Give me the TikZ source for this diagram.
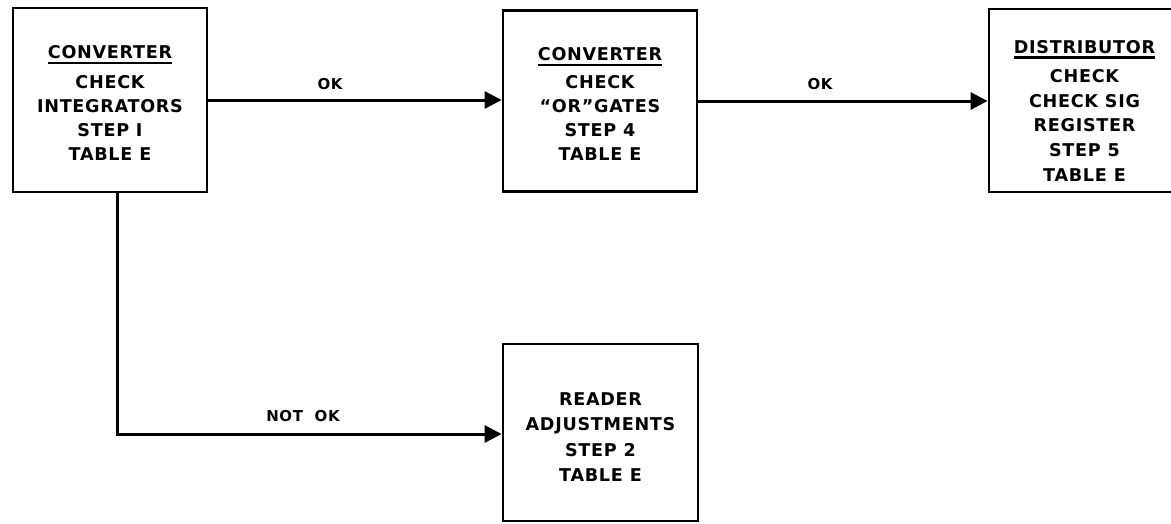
\documentclass[tikz,border=0pt]{standalone}
\usepackage{fontspec}
\setmainfont{DejaVu Sans}[LetterSpace=4]
\usetikzlibrary{arrows.meta}
\newcommand\hdul[1]{\leavevmode\vtop{\hbox{#1}\kern2.5pt\hrule height 2.6pt}}
\begin{document}
\begin{tikzpicture}[x=1pt,y=-1pt,
  blk/.style={draw,line width=2.8pt,inner sep=0pt},
  txt/.style={inner sep=0pt,align=center,
    font=\fontsize{17.6}{23.8}\selectfont\bfseries},
  lbl/.style={font=\fontsize{15}{17}\selectfont\bfseries,inner sep=1pt},
  conn/.style={line width=3pt,-{Triangle[length=17pt,width=17pt]}}]
\useasboundingbox (0,0) rectangle (1171,523);
\node[blk,minimum width=194pt,minimum height=184pt] (b1) at (110,100) {};
\node[blk,minimum width=194pt,minimum height=181pt] (b2) at (600,101) {};
\node[blk,minimum width=191pt,minimum height=183pt] (b3) at (1084.5,100.5) {};
\node[blk,minimum width=195pt,minimum height=177pt] (b4) at (600.5,432.5) {};
\node[txt] (t1) at (110,103)
  {\hdul{CONVERTER}\\[6pt]CHECK\\INTEGRATORS\\STEP I\\TABLE E};
\node[txt] (t2) at (600,104)
  {\hdul{CONVERTER}\\[4pt]CHECK\\\textquotedblleft OR\textquotedblright GATES\\STEP 4\\TABLE E};
\node[txt,font=\fontsize{17.6}{24.8}\selectfont\bfseries] (t3) at (1084.5,111)
  {\hdul{DISTRIBUTOR}\\[4pt]CHECK\\CHECK SIG\\REGISTER\\STEP 5\\TABLE E};
\node[txt,font=\fontsize{17.6}{25.5}\selectfont\bfseries] (t4) at (600.5,437)
  {READER\\ADJUSTMENTS\\STEP 2\\TABLE E};
\coordinate (c) at (117,434);
\draw[conn] (b1.east) -- (b1.east -| b2.west);
\draw[conn] (b2.east) -- (b2.east -| b3.west);
\draw[conn] (b1.south -| c) -- (c) -- (c -| b4.west);
\node[lbl] (ok1) at (330,84) {OK};
\node[lbl] (ok2) at (820,84) {OK};
\node[lbl] (nok) at (303,416) {NOT\ \ OK};
\end{tikzpicture}
\end{document}
